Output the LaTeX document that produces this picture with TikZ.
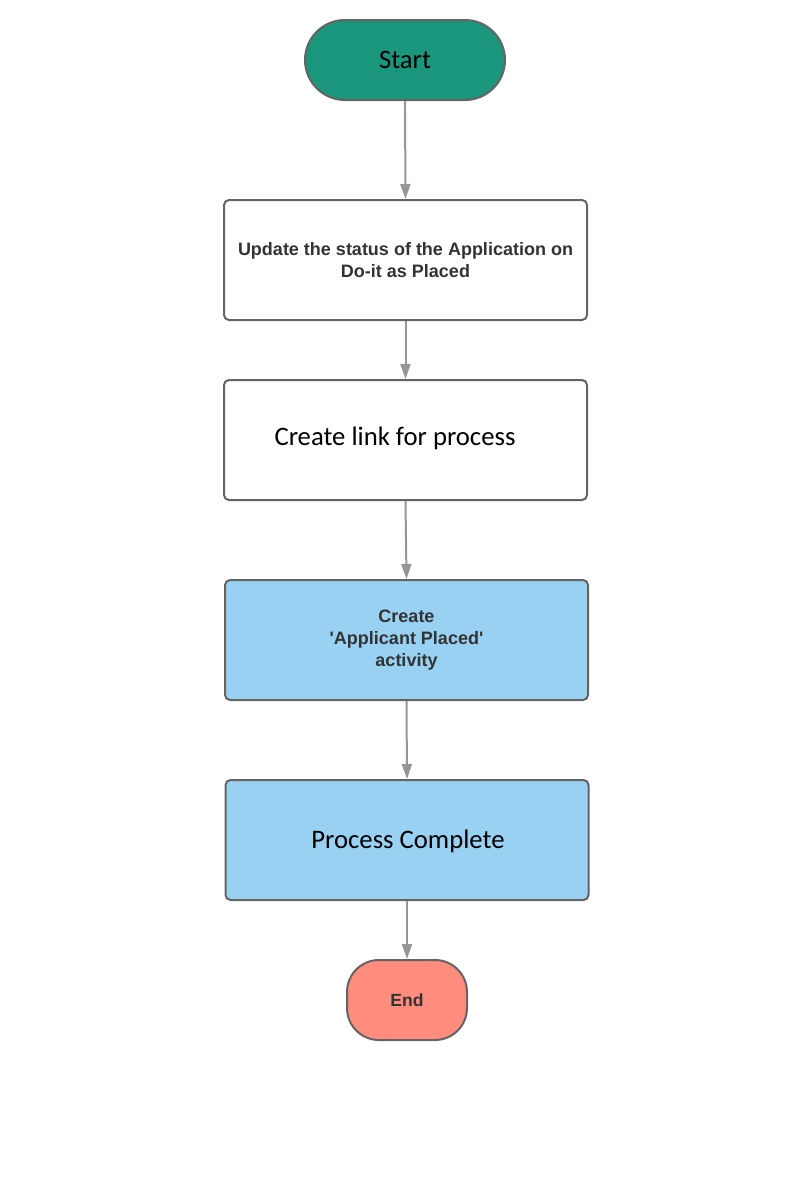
\documentclass[tikz,border=0pt]{standalone}
\usepackage{fontspec}
\newfontfamily\arial{Liberation Sans}
\newfontfamily\calib{Carlito}
\usetikzlibrary{arrows.meta,shapes.misc}
\definecolor{teal1}{RGB}{26,150,125}
\definecolor{lblue}{RGB}{153,209,243}
\definecolor{salmon1}{RGB}{255,140,125}
\definecolor{bord}{RGB}{100,100,100}
\definecolor{arr}{RGB}{150,150,150}
\definecolor{txt}{RGB}{51,51,51}
\tikzset{
  base/.style={draw=bord, line width=2pt, rounded corners=5pt, minimum width=363pt, minimum height=120pt, inner sep=0pt, align=center},
  wbox/.style={base, fill=white},
  bbox/.style={base, fill=lblue},
  boldtxt/.style={font=\arial\fontsize{18}{22}\selectfont\bfseries, text=txt},
  caltxt/.style={font=\calib\fontsize{26.7}{30}\selectfont, text=black},
  conn/.style={draw=arr, line width=2pt, -{Triangle[length=15pt,width=10pt]}}
}
\begin{document}
\begin{tikzpicture}[x=1pt,y=-1pt]
\useasboundingbox (0,0) rectangle (800,1200);
\node[draw=bord, line width=2pt, fill=teal1, rounded rectangle, minimum width=200pt, minimum height=80pt, inner sep=0pt, caltxt] (start) at (405,60) {Start};
\node[wbox, boldtxt] (b1) at (405.5,260) {Update the status of the Application on\\Do-it as Placed};
\node[wbox] (b2) at (405.5,440) {};
\node[caltxt] (t2) at (395,438) {Create link for process};
\node[bbox, boldtxt] (b3) at (406.5,640) {Create\\'Applicant Placed'\\activity};
\node[bbox] (b4) at (407,840) {};
\node[caltxt] (t4) at (408,841) {Process Complete};
\node[draw=bord, line width=2pt, fill=salmon1, rounded corners=32pt, minimum width=120pt, minimum height=80pt, inner sep=0pt, text=txt, font=\arial\fontsize{17.6}{20}\selectfont\bfseries] (end) at (407,1000) {End};
\draw[conn] (start.south) -- (b1.north);
\draw[conn] (b1.south) -- (b2.north);
\draw[conn] (b2.south) -- (b3.north);
\draw[conn] (b3.south) -- (b4.north);
\draw[conn] (b4.south) -- (end.north);
\end{tikzpicture}
\end{document}
